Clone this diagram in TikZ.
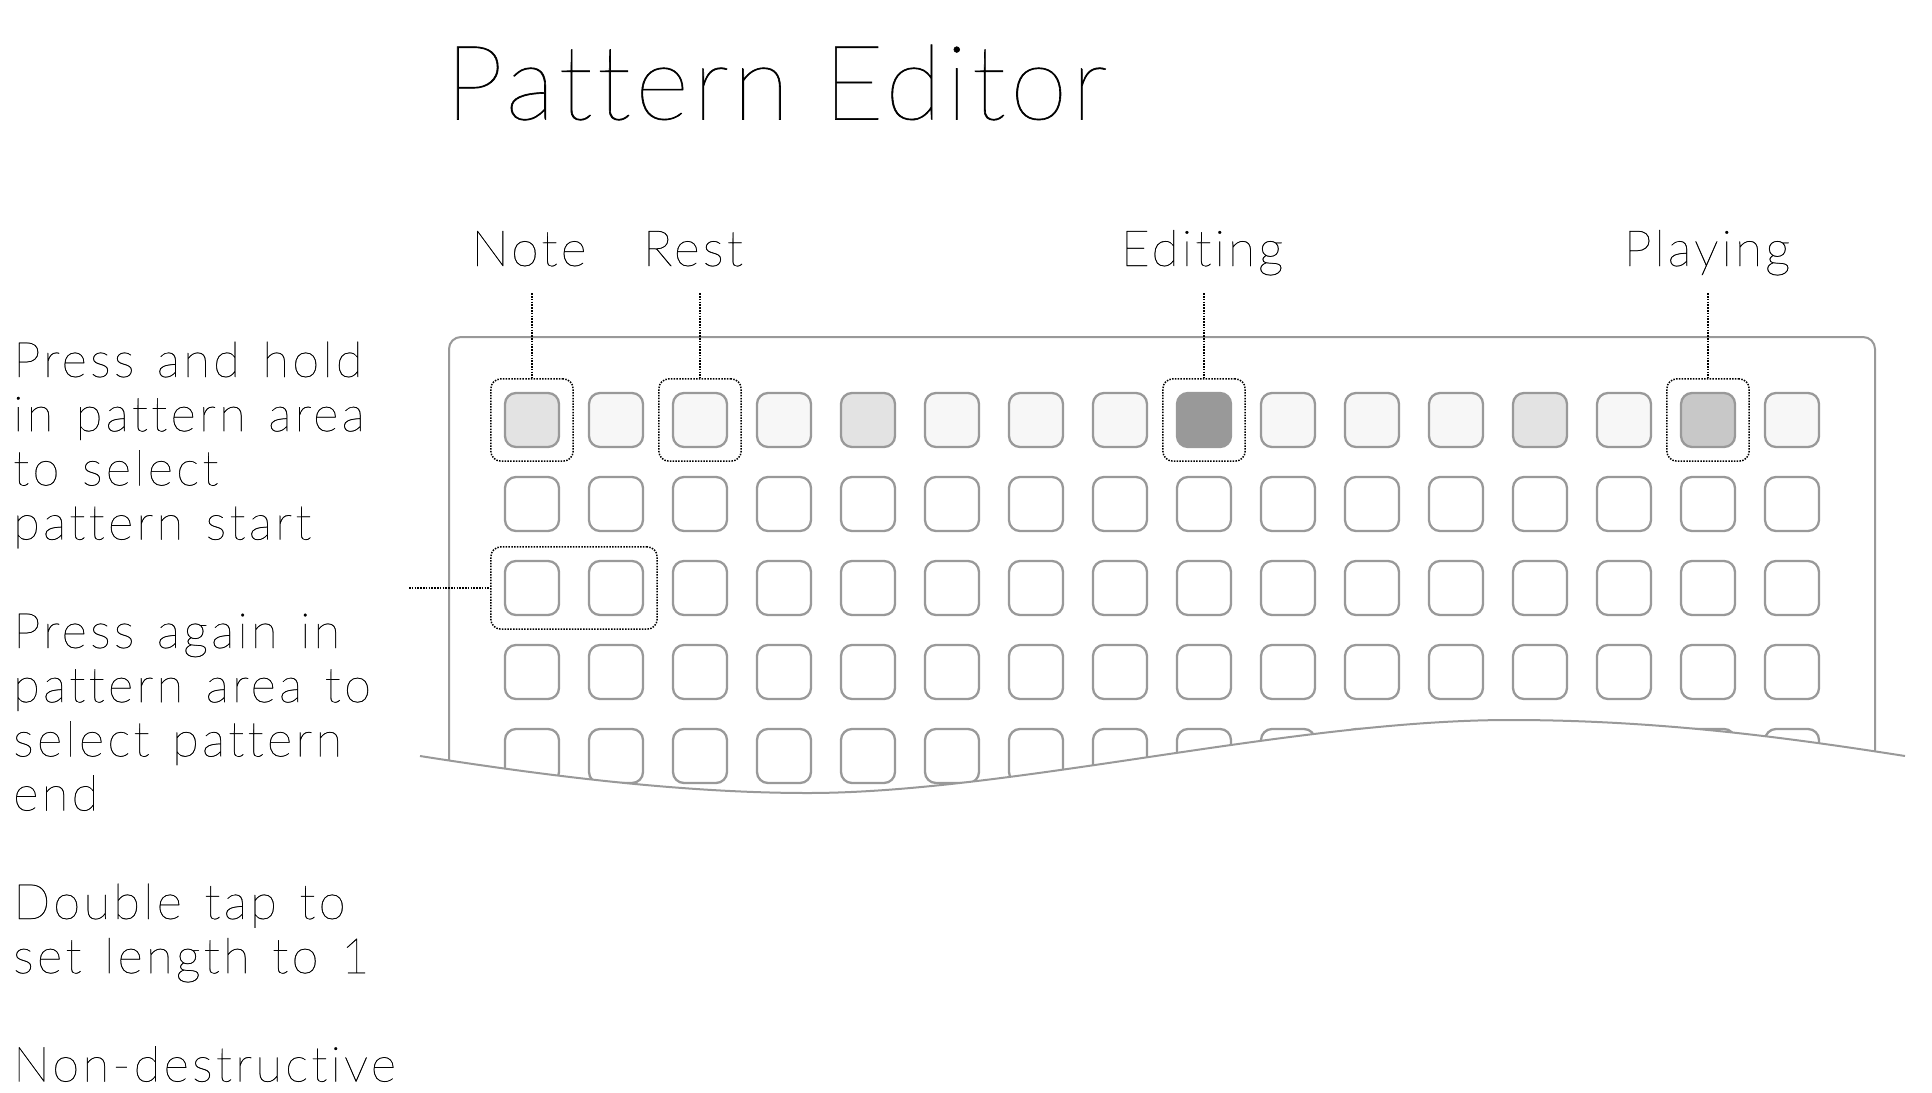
\documentclass[tikz,border=0pt]{standalone}
\usepackage{fontspec}
\setmainfont{Lato Thin}[LetterSpace=4, Ligatures=NoCommon, FakeBold=0.6]
\newfontfamily\sidefont{Lato Thin}[LetterSpace=6.6, Ligatures=NoCommon, FakeBold=0.5]
\newfontfamily\labelfont{Lato Thin}[LetterSpace=6, Ligatures=NoCommon, FakeBold=0.5]
\usepackage{tikz}
\usetikzlibrary{positioning, fit}
\definecolor{padline}{HTML}{999999}
\definecolor{padlite}{HTML}{F7F7F7}
\definecolor{padnote}{HTML}{E3E3E3}
\definecolor{padplay}{HTML}{C8C8C8}
\definecolor{padedit}{HTML}{999999}

\begin{document}
\begin{tikzpicture}[
  x=1pt, y=-1pt,
  pad/.style={draw=padline, line width=2.3pt, rounded corners=11pt, minimum size=54pt, inner sep=0pt},
  hilite/.style={draw=black, line width=1.5pt, dash pattern=on 1.5pt off 1.3pt, rounded corners=10pt, inner sep=13pt},
  leader/.style={black, line width=1.5pt, dash pattern=on 1.5pt off 1.3pt},
  toplabel/.style={anchor=base, inner xsep=0pt, inner ysep=27pt, text depth=0pt, font=\labelfont\fontsize{50}{54}\selectfont},
  sidetext/.style={anchor=base west, inner sep=0pt, align=left, text width=430pt, font=\sidefont\fontsize{49}{54.2}\selectfont,
    execute at begin node={\spaceskip=22.5pt\relax}}
]
\useasboundingbox (0,0) rectangle (1932,1092);

% ---- title ----
\node[anchor=base west, inner sep=0pt, font=\fontsize{104}{120}\selectfont] (title) at (445,119.5) {Pattern Editor};

% ---- frame of the device ----
\draw[padline, line width=2pt, rounded corners=12pt] (449,337) rectangle (1875,830);

% ---- pads: top row carries the step states ----
\foreach \f [count=\c] in {padnote,padlite,padlite,padlite,padnote,padlite,padlite,padlite,padedit,padlite,padlite,padlite,padnote,padlite,padplay,padlite}
  \node[pad, fill=\f] (p-1-\c) at ({532+84*(\c-1)},420) {};
\foreach \r in {2,...,5}
  \foreach \c in {1,...,16}
    \node[pad, fill=white] (p-\r-\c) at ({532+84*(\c-1)},{420+84*(\r-1)}) {};

% ---- torn edge ----
\fill[white] (420,756) .. controls (560,778) and (690,793) .. (808,793)
  .. controls (1010,793) and (1290,720) .. (1510,720)
  .. controls (1660,720) and (1790,738) .. (1905,756) -- (1905,850) -- (420,850) -- cycle;
\draw[padline, line width=2pt] (420,756) .. controls (560,778) and (690,793) .. (808,793)
  .. controls (1010,793) and (1290,720) .. (1510,720)
  .. controls (1660,720) and (1790,738) .. (1905,756);

% ---- highlighted pads ----
\node[hilite, fit=(p-1-1)] (noteBox) {};
\node[hilite, fit=(p-1-3)] (restBox) {};
\node[hilite, fit=(p-1-9)] (editBox) {};
\node[hilite, fit=(p-1-15)] (playBox) {};
\node[hilite, fit=(p-3-1)(p-3-2)] (rangeBox) {};

% ---- labels above ----
\node[toplabel] (note) at (529,266) {Note};
\node[toplabel] (rest) at (693,266) {Rest};
\node[toplabel] (edit) at (1202,266) {Editing};
\node[toplabel] (play) at (1707,266) {Playing};
\draw[leader] (note.south -| noteBox.north) -- (noteBox.north);
\draw[leader] (rest.south -| restBox.north) -- (restBox.north);
\draw[leader] (edit.south -| editBox.north) -- (editBox.north);
\draw[leader] (play.south -| playBox.north) -- (playBox.north);

% ---- side notes ----
\node[sidetext] (howto) at (13,377) {Press and hold\\in pattern area\\to select\\pattern start\\[54.2pt]Press again in\\pattern area to\\select pattern\\end\\[54.2pt]Double tap to\\set length to 1\\[54.2pt]Non-destructive};
\coordinate (rangeTip) at (409,588);
\draw[leader] (rangeTip) -- (rangeBox.west);
\end{tikzpicture}
\end{document}
